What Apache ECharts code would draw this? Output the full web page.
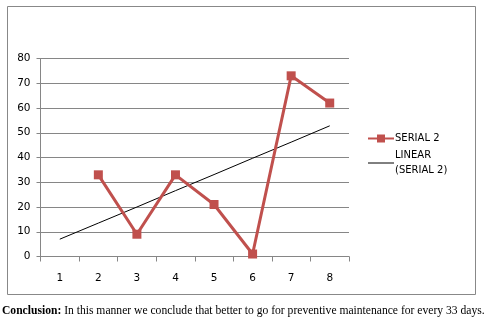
<!DOCTYPE html>
<html><head><meta charset="utf-8">
<script src="https://cdn.jsdelivr.net/npm/echarts@6/dist/echarts.min.js"></script>
<style>html,body{margin:0;padding:0;background:#fff}#c{width:485px;height:321px}</style>
</head><body><div id="c"></div>
<script>
var categories = ['1','2','3','4','5','6','7','8'];
var serial2 = [null, 33, 9, 33, 21, 1, 73, 62];
var linearTrend = [7, 13.5, 20, 26.6, 33.1, 39.7, 46.2, 52.8];
var yTicks = [0, 10, 20, 30, 40, 50, 60, 70, 80];
var seriesNames = ['SERIAL 2', 'LINEAR (SERIAL 2)'];
var legendLabels = {'SERIAL 2': 'SERIAL 2', 'LINEAR (SERIAL 2)': 'LINEAR\n(SERIAL 2)'};
var conclusionBold = 'Conclusion:';
var conclusionText = ' In this manner we conclude that better to go for preventive maintenance for every 33 days.';

var chart = echarts.init(document.getElementById('c'), null, {renderer: 'canvas'});
var axisFont = {fontFamily: 'DejaVu Sans', fontSize: 10.5, color: '#000'};
chart.setOption({
  animation: false,
  backgroundColor: '#fff',
  grid: {left: 40.5, right: 136, top: 58.5, bottom: 64.5, containLabel: false},
  xAxis: {
    type: 'category', data: categories, boundaryGap: true,
    axisLine: {lineStyle: {color: '#868686', width: 1}},
    axisTick: {show: true, length: 5, lineStyle: {color: '#868686'}},
    axisLabel: Object.assign({margin: 16}, axisFont),
    splitLine: {show: false}
  },
  yAxis: {
    type: 'value', min: yTicks[0], max: yTicks[yTicks.length - 1], interval: 10,
    axisLine: {show: true, lineStyle: {color: '#868686', width: 1}},
    axisTick: {show: true, length: 4, lineStyle: {color: '#868686'}},
    axisLabel: Object.assign({margin: 10}, axisFont),
    splitLine: {lineStyle: {color: '#868686', width: 1}}
  },
  legend: {
    orient: 'vertical', left: 362, top: 126,
    itemWidth: 26, itemHeight: 10, itemGap: 2,
    data: [
      {name: seriesNames[0]},
      {name: seriesNames[1], itemStyle: {opacity: 0}, lineStyle: {color: '#000', width: 1}}
    ],
    formatter: function (n) { return legendLabels[n]; },
    textStyle: {fontFamily: 'DejaVu Sans', fontSize: 10, color: '#000', lineHeight: 15, padding: [0, 0, 0, -4]},
    inactiveColor: '#ccc'
  },
  series: [
    {
      name: seriesNames[0], type: 'line', data: serial2,
      connectNulls: false,
      symbol: 'rect', symbolSize: 9, showAllSymbol: true,
      itemStyle: {color: '#C0504D'},
      lineStyle: {color: '#C0504D', width: 3},
      z: 3
    },
    {
      name: seriesNames[1], type: 'line', data: linearTrend,
      symbol: 'none', showSymbol: false,
      itemStyle: {color: '#000'},
      lineStyle: {color: '#000', width: 1},
      z: 2
    }
  ],
  graphic: [
    {type: 'rect', shape: {x: 7.5, y: 6.5, width: 468, height: 288}, style: {fill: 'none', stroke: '#888', lineWidth: 1}, z: -1, silent: true},
    {type: 'text', left: 2, top: 305, style: {
      text: '{b|' + conclusionBold + '}{n|' + conclusionText + '}',
      rich: {
        b: {fontFamily: 'Liberation Serif', fontSize: 11.6, fontWeight: 'bold', fill: '#000'},
        n: {fontFamily: 'Liberation Serif', fontSize: 11.6, fill: '#000'}
      }
    }}
  ]
});
</script></body></html>
